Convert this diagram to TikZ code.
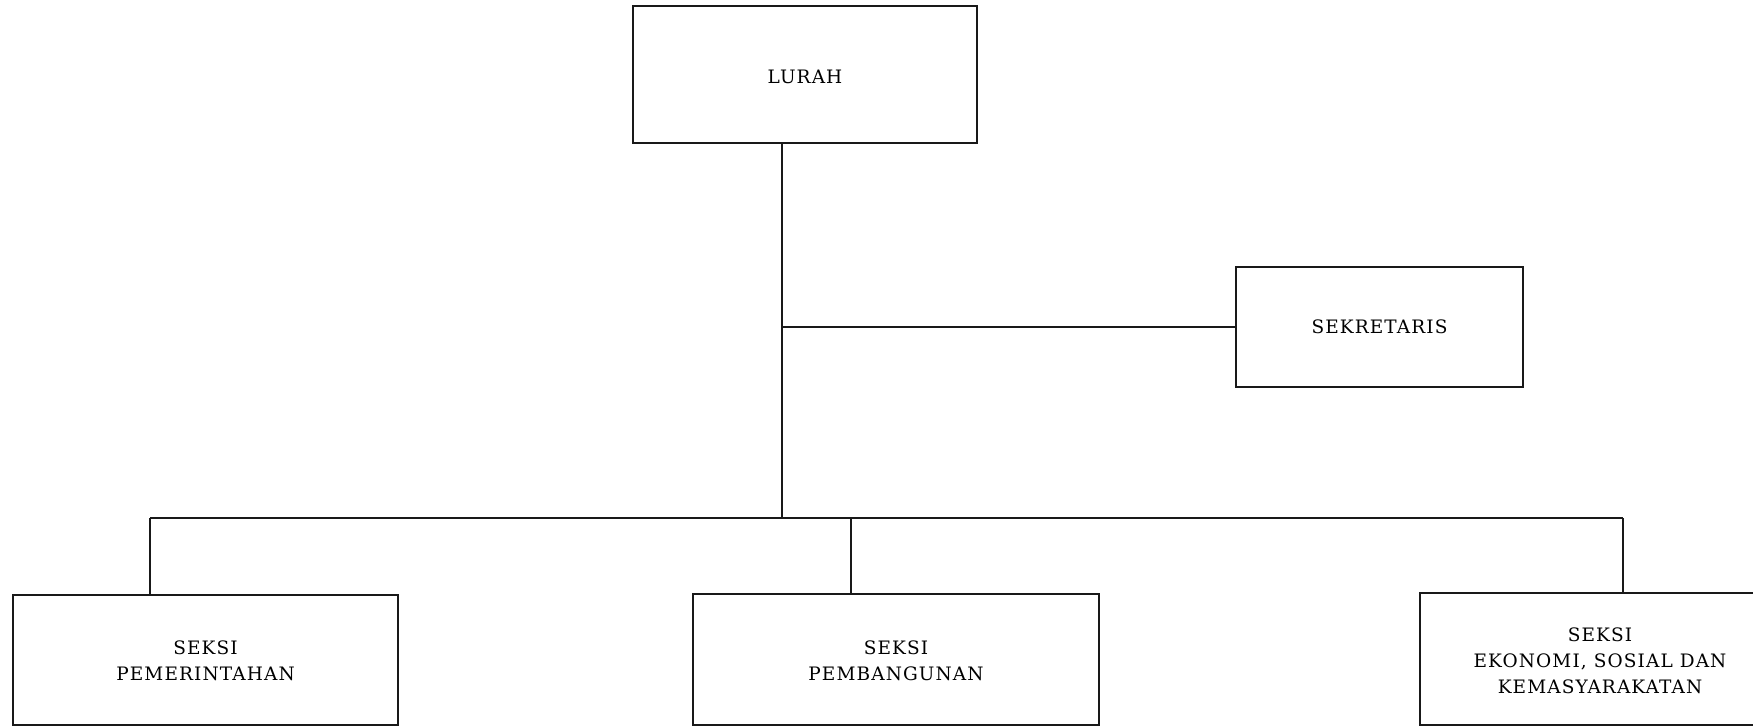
\documentclass[tikz,border=0pt]{standalone}
\usepackage{fontspec}
\setmainfont{DejaVu Serif}[LetterSpace=6]
\begin{document}
\begin{tikzpicture}[x=1pt,y=-1pt,
  box/.style={draw=black!90, line width=1.7pt, inner sep=0pt},
  lbl/.style={font=\fontsize{18.5}{26}\selectfont, align=center, inner sep=0pt, text=black},
  conn/.style={draw=black!90, line width=1.7pt}]
\useasboundingbox (0,0) rectangle (1753,727);
\fill[white] (0,0) rectangle (1753,727);
\begin{scope}
\clip (0,0) rectangle (1753,727);
% boxes
\node[box, minimum width=344pt, minimum height=137pt] (lurah) at (805,74.5) {};
\node[box, minimum width=287pt, minimum height=120pt] (sek) at (1379.5,327) {};
\node[box, minimum width=385pt, minimum height=130pt] (pem) at (205.5,660) {};
\node[box, minimum width=406pt, minimum height=131pt] (pbg) at (896,659.5) {};
\node[box, minimum width=360pt, minimum height=132pt] (eko) at (1600,659) {};
% labels
\node[lbl] (tlurah) at ([yshift=-2.5pt]lurah.center) {LURAH};
\node[lbl] (tsek) at (sek.center) {SEKRETARIS};
\node[lbl, anchor=center] (tpem) at ([yshift=-1pt]pem.center) {SEKSI\\PEMERINTAHAN};
\node[lbl, anchor=center] (tpbg) at ([yshift=-1pt]pbg.center) {SEKSI\\PEMBANGUNAN};
\node[lbl, anchor=center] (teko) at ([yshift=-2pt]eko.center) {SEKSI\\EKONOMI, SOSIAL DAN\\KEMASYARAKATAN};
% connectors
\coordinate (junc) at (782,518);
\coordinate (br) at (782,327);
\coordinate (busL) at (150,518);
\coordinate (busM) at (851,518);
\coordinate (busR) at (1623,518);
\draw[conn] (lurah.south -| junc) -- (junc);
\draw[conn] (br) -- (sek.west);
\draw[conn] (busL) -- (busR);
\draw[conn] (busL) -- (busL |- pem.north);
\draw[conn] (busM) -- (busM |- pbg.north);
\draw[conn] (busR) -- (busR |- eko.north);
\end{scope}
\end{tikzpicture}
\end{document}
